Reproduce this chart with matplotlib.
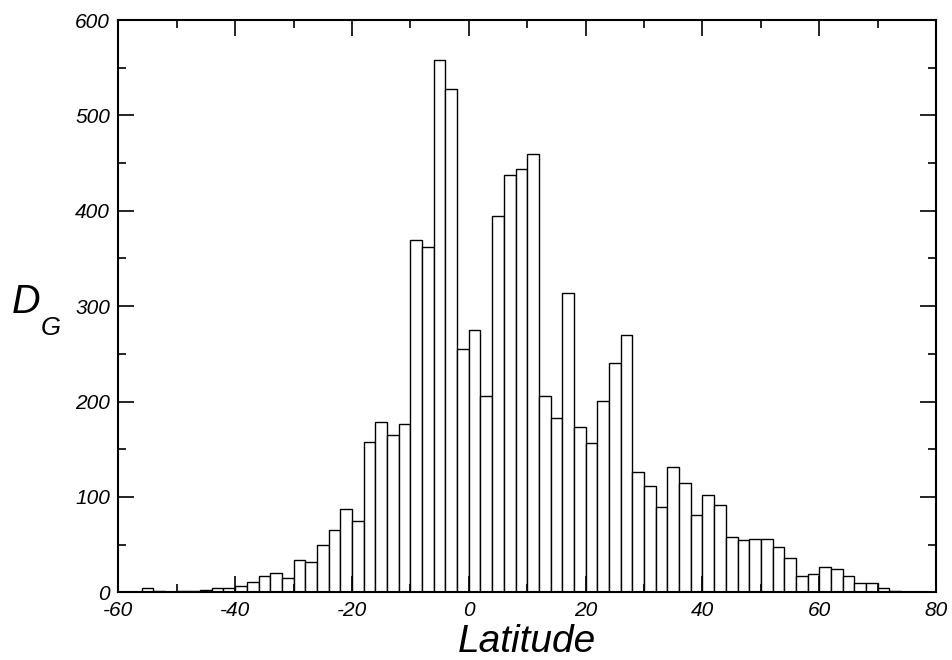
import matplotlib
matplotlib.use("Agg")
import matplotlib.pyplot as plt
from matplotlib.ticker import MultipleLocator
import numpy as np

# 緯度ごとのヒストグラム (2度幅)
bin_left = np.arange(-60, 80, 2)
counts = [0, 0, 4, 1, 0, 1, 1, 2, 5, 5,
          7, 11, 17, 20, 15, 34, 32, 50, 65, 87,
          75, 158, 179, 165, 176, 369, 362, 558, 528, 255,
          275, 206, 395, 438, 444, 460, 206, 183, 314, 173,
          157, 201, 240, 270, 126, 111, 89, 131, 115, 81,
          102, 91, 58, 55, 56, 56, 47, 36, 17, 19,
          26, 24, 17, 10, 10, 5, 1, 0, 0, 0]

plt.rcParams['font.family'] = ['Liberation Sans', 'DejaVu Sans']
plt.rcParams['axes.unicode_minus'] = False

fig = plt.figure(figsize=(9.52, 6.6), dpi=100)
ax = fig.add_axes([0.1243, 0.1026, 0.859, 0.867])

ax.bar(bin_left, counts, width=2, align='edge', facecolor='white',
       edgecolor='black', linewidth=1.0)

ax.set_xlim(-60, 80)
ax.set_ylim(0, 600)
ax.xaxis.set_major_locator(MultipleLocator(20))
ax.xaxis.set_minor_locator(MultipleLocator(10))
ax.yaxis.set_major_locator(MultipleLocator(100))
ax.yaxis.set_minor_locator(MultipleLocator(50))

ax.tick_params(which='both', direction='in', top=True, right=True, width=1.2)
ax.tick_params(which='major', length=11.5)
ax.tick_params(which='minor', length=5.8)
ax.tick_params(axis='x', which='major', pad=6)
ax.tick_params(axis='y', which='major', pad=6)
for lab in ax.get_xticklabels() + ax.get_yticklabels():
    lab.set_fontsize(15)
    lab.set_fontstyle('italic')
for sp in ax.spines.values():
    sp.set_linewidth(1.5)

ax.set_xlabel('Latitude', fontsize=28, fontstyle='italic')
ax.xaxis.set_label_coords(0.5, -0.056)

# 縦軸ラベル D_G (添字は別テキストで配置)
fig.text(12 / 952, 1 - 313 / 660, 'D', fontsize=28.5, fontstyle='italic',
         ha='left', va='baseline')
fig.text(41 / 952, 1 - 335 / 660, 'G', fontsize=18.5, fontstyle='italic',
         ha='left', va='baseline')

fig.savefig("out.png", dpi=100)
